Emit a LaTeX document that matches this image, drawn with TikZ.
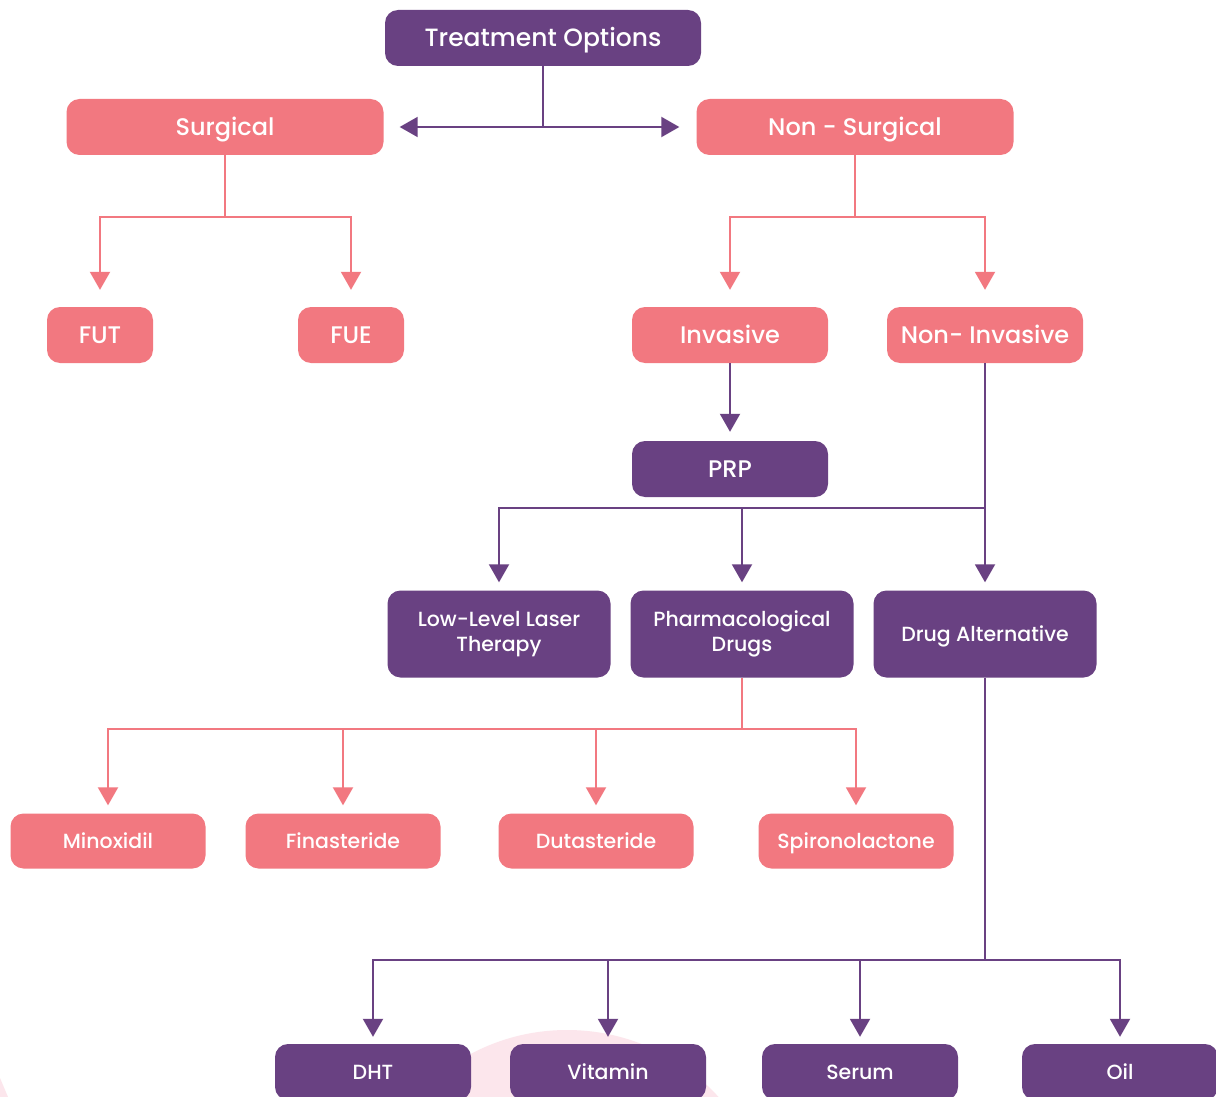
\documentclass[tikz,border=0pt]{standalone}
\usepackage{fontspec}
\setmainfont{Poppins}[UprightFont={* Medium}]
\usetikzlibrary{arrows.meta,calc}
\definecolor{pur}{HTML}{694182}
\definecolor{pnk}{HTML}{F27880}
\definecolor{bgp}{HTML}{FCE6EC}
\begin{document}
\begin{tikzpicture}[x=1pt,y=-1pt,
 box/.style={rounded corners=13pt, text=white, align=center, inner sep=0pt, minimum height=56pt},
 pbox/.style={box, fill=pur},
 kbox/.style={box, fill=pnk},
 big/.style={font=\fontsize{24}{28}\selectfont, text height=17pt, text depth=0pt},
 small/.style={font=\fontsize{20.5}{25}\selectfont},
 sl/.style={text height=14.5pt, text depth=0pt},
 pl/.style={draw=pur, line width=2pt},
 kl/.style={draw=pnk, line width=2pt},
 arr/.style={-{Triangle[width=20pt,length=18pt]}}
]
\useasboundingbox (0,0) rectangle (1216,1097);
\fill[white] (0,0) rectangle (1216,1097);
\fill[bgp] (567,1235) circle (205);
\fill[bgp] (0,1078) -- (8,1097) -- (0,1097) -- cycle;

% nodes
\node[pbox,big,font=\fontsize{25}{29}\selectfont,minimum width=316pt] (top) at (543,38) {Treatment Options};
\node[kbox,big,minimum width=317pt] (surg) at (225,127) {Surgical};
\node[kbox,big,minimum width=317pt] (nsurg) at (855,127) {Non - Surgical};
\node[kbox,big,minimum width=106pt] (fut) at (100,335) {FUT};
\node[kbox,big,minimum width=106pt] (fue) at (351,335) {FUE};
\node[kbox,big,minimum width=196pt] (inv) at (730,335) {Invasive};
\node[kbox,big,minimum width=196pt] (ninv) at (985,335) {Non- Invasive};
\node[pbox,big,minimum width=196pt] (prp) at (730,469) {PRP};
\node[pbox,small,minimum width=223pt,minimum height=87pt] (lllt) at (499,634) {Low-Level Laser\\Therapy};
\node[pbox,small,minimum width=223pt,minimum height=87pt] (pharm) at (742,634) {Pharmacological\\Drugs};
\node[pbox,small,sl,minimum width=223pt,minimum height=87pt] (dalt) at (985,634) {Drug Alternative};
\node[kbox,small,sl,minimum width=195pt,minimum height=55pt] (mino) at (108,841) {Minoxidil};
\node[kbox,small,sl,minimum width=195pt,minimum height=55pt] (fina) at (343,841) {Finasteride};
\node[kbox,small,sl,minimum width=195pt,minimum height=55pt] (duta) at (596,841) {Dutasteride};
\node[kbox,small,sl,minimum width=195pt,minimum height=55pt] (spir) at (856,841) {Spironolactone};
\node[pbox,small,sl,minimum width=196pt] (dht) at (373,1072) {DHT};
\node[pbox,small,sl,minimum width=196pt] (vit) at (608,1072) {Vitamin};
\node[pbox,small,sl,minimum width=196pt] (ser) at (860,1072) {Serum};
\node[pbox,small,sl,minimum width=196pt] (oil) at (1120,1072) {Oil};

% junctions
\coordinate (j0) at (543,127);
\coordinate (js) at (225,217);
\coordinate (jn) at (855,217);
\coordinate (ji) at (985,508);
\coordinate (jp) at (742,729);
\coordinate (jd) at (985,960);

% connectors
\draw[pl] (top.south) -- (j0);
\draw[pl,arr,shorten >=16pt] (j0) -- (surg.east);
\draw[pl,arr,shorten >=17pt] (j0) -- (nsurg.west);

\draw[kl] (surg.south) -- (js);
\draw[kl,arr,shorten >=17pt] (js) -| (fut.north);
\draw[kl,arr,shorten >=17pt] (js) -| (fue.north);

\draw[kl] (nsurg.south) -- (jn);
\draw[kl,arr,shorten >=17pt] (jn) -| (inv.north);
\draw[kl,arr,shorten >=17pt] (jn) -| (ninv.north);

\draw[pl,arr,shorten >=9pt] (inv.south) -- (prp.north);

\draw[pl] (ninv.south) -- (ji);
\draw[pl,arr,shorten >=8pt] (ji) -- (dalt.north);
\draw[pl,arr,shorten >=8pt] (ji) -| (lllt.north);
\draw[pl,arr,shorten >=8pt] (ji) -| (pharm.north);

\draw[kl] (pharm.south) -- (jp);
\draw[kl,arr,shorten >=8pt] (jp) -| (mino.north);
\draw[kl,arr,shorten >=8pt] (jp) -| (fina.north);
\draw[kl,arr,shorten >=8pt] (jp) -| (duta.north);
\draw[kl,arr,shorten >=8pt] (jp) -| (spir.north);

\draw[pl] (dalt.south) -- (jd);
\draw[pl,arr,shorten >=7pt] (jd) -| (dht.north);
\draw[pl,arr,shorten >=7pt] (jd) -| (vit.north);
\draw[pl,arr,shorten >=7pt] (jd) -| (ser.north);
\draw[pl,arr,shorten >=7pt] (jd) -| (oil.north);
\end{tikzpicture}
\end{document}
